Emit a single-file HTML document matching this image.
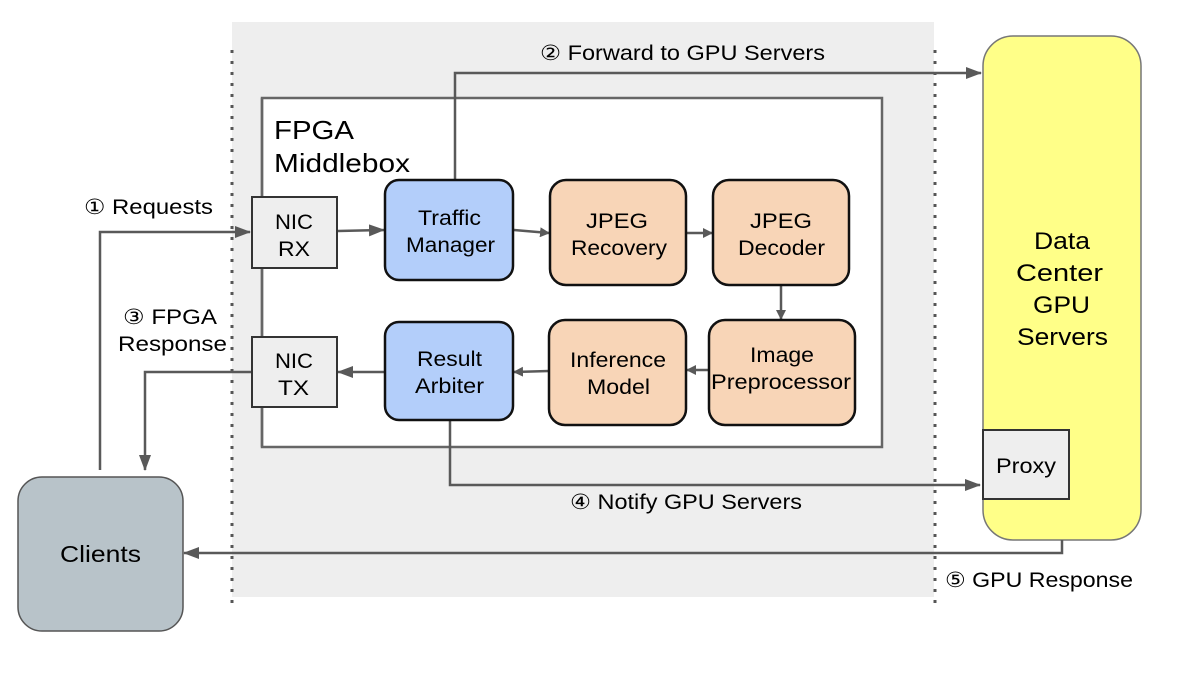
<!DOCTYPE html>
<html><head><meta charset="utf-8"><style>
body{margin:0;background:#fff}
svg{display:block;font-family:"Liberation Sans",sans-serif}
</style></head><body>
<svg width="1196" height="673" viewBox="0 0 1196 673" xmlns="http://www.w3.org/2000/svg">
<defs><marker id="a" markerWidth="10" markerHeight="10" refX="9" refY="5" orient="auto" markerUnits="userSpaceOnUse"><path d="M0,0 L10,5 L0,10 z" fill="#595959"/></marker>
<marker id="b" markerWidth="16" markerHeight="12" refX="15" refY="6" orient="auto" markerUnits="userSpaceOnUse"><path d="M0,0 L16,6 L0,12 z" fill="#595959"/></marker></defs>
<rect x="232" y="22" width="702" height="575" fill="#eeeeee"/>
<line x1="232" y1="50" x2="232" y2="606" stroke="#555" stroke-width="3" stroke-dasharray="3,8"/>
<line x1="935" y1="50" x2="935" y2="606" stroke="#555" stroke-width="3" stroke-dasharray="3,8"/>
<rect x="262" y="98" width="620" height="349" fill="#fff" stroke="#666" stroke-width="2.5"/>
<text x="274" y="139" font-size="26" textLength="80" lengthAdjust="spacingAndGlyphs">FPGA</text>
<text x="274" y="172" font-size="26" textLength="136" lengthAdjust="spacingAndGlyphs">Middlebox</text>
<rect x="983" y="36" width="158" height="504" rx="30" fill="#ffff88" stroke="#777" stroke-width="1.5"/>
<g font-size="24" lengthAdjust="spacingAndGlyphs">
<text x="1034" y="249" textLength="56" lengthAdjust="spacingAndGlyphs">Data</text>
<text x="1016" y="281" textLength="87" lengthAdjust="spacingAndGlyphs">Center</text>
<text x="1033" y="313" textLength="57" lengthAdjust="spacingAndGlyphs">GPU</text>
<text x="1017" y="345" textLength="91" lengthAdjust="spacingAndGlyphs">Servers</text></g>
<rect x="983" y="430" width="86" height="69" fill="#eeeeee" stroke="#333" stroke-width="2"/>
<text x="996" y="473" font-size="21" textLength="60" lengthAdjust="spacingAndGlyphs">Proxy</text>
<rect x="18" y="477" width="165" height="154" rx="24" fill="#b8c3c9" stroke="#555" stroke-width="1.5"/>
<text x="60" y="562" font-size="23" textLength="81" lengthAdjust="spacingAndGlyphs">Clients</text>
<g stroke="#595959" stroke-width="2.5" fill="none">
<polyline points="100,470 100,232 250,232" marker-end="url(#b)"/>
<line x1="338" y1="231" x2="384" y2="230" marker-end="url(#b)"/>
<line x1="514" y1="230" x2="549" y2="233" marker-end="url(#a)"/>
<line x1="686" y1="233" x2="712" y2="233" marker-end="url(#a)"/>
<line x1="781" y1="285" x2="781" y2="319" marker-end="url(#a)"/>
<line x1="708" y1="370" x2="687" y2="370" marker-end="url(#a)"/>
<line x1="549" y1="371" x2="514" y2="372" marker-end="url(#a)"/>
<line x1="384" y1="372" x2="338" y2="372" marker-end="url(#b)"/>
<polyline points="455,180 455,73 981,73" marker-end="url(#b)"/>
<polyline points="252,372 145,372 145,470" marker-end="url(#b)"/>
<polyline points="450,420 450,485 980,485" marker-end="url(#b)"/>
<polyline points="1062,540 1062,553 184,553" marker-end="url(#b)"/>
</g>
<line x1="262" y1="98" x2="262" y2="447" stroke="#666" stroke-width="2.5"/>
<rect x="252" y="197" width="85" height="71" fill="#eeeeee" stroke="#333" stroke-width="2"/>
<rect x="252" y="337" width="85" height="70" fill="#eeeeee" stroke="#333" stroke-width="2"/>
<g stroke="#111" stroke-width="2.5">
<rect x="385" y="180" width="128" height="100" rx="14" fill="#b3cefa"/>
<rect x="385" y="322" width="128" height="98" rx="14" fill="#b3cefa"/>
<rect x="550" y="180" width="136" height="105" rx="16" fill="#f8d5b7"/>
<rect x="713" y="180" width="136" height="105" rx="16" fill="#f8d5b7"/>
<rect x="709" y="320" width="146" height="105" rx="16" fill="#f8d5b7"/>
<rect x="549" y="320" width="137" height="105" rx="16" fill="#f8d5b7"/>
</g>
<g font-size="21" fill="#000">
<text x="275" y="229" textLength="38" lengthAdjust="spacingAndGlyphs">NIC</text>
<text x="278" y="256" textLength="32" lengthAdjust="spacingAndGlyphs">RX</text>
<text x="275" y="368" textLength="38" lengthAdjust="spacingAndGlyphs">NIC</text>
<text x="278" y="395" textLength="31" lengthAdjust="spacingAndGlyphs">TX</text>
<text x="418" y="225" textLength="63" lengthAdjust="spacingAndGlyphs">Traffic</text>
<text x="406" y="252" textLength="89" lengthAdjust="spacingAndGlyphs">Manager</text>
<text x="586" y="228" textLength="62" lengthAdjust="spacingAndGlyphs">JPEG</text>
<text x="571" y="255" textLength="96" lengthAdjust="spacingAndGlyphs">Recovery</text>
<text x="750" y="228" textLength="62" lengthAdjust="spacingAndGlyphs">JPEG</text>
<text x="738" y="255" textLength="87" lengthAdjust="spacingAndGlyphs">Decoder</text>
<text x="750" y="362" textLength="64" lengthAdjust="spacingAndGlyphs">Image</text>
<text x="711" y="389" textLength="140" lengthAdjust="spacingAndGlyphs">Preprocessor</text>
<text x="570" y="367" textLength="96" lengthAdjust="spacingAndGlyphs">Inference</text>
<text x="587" y="394" textLength="63" lengthAdjust="spacingAndGlyphs">Model</text>
<text x="417" y="366" textLength="65" lengthAdjust="spacingAndGlyphs">Result</text>
<text x="415" y="393" textLength="69" lengthAdjust="spacingAndGlyphs">Arbiter</text>
<text x="84" y="214" textLength="129" lengthAdjust="spacingAndGlyphs">① Requests</text>
<text x="123" y="324" textLength="94" lengthAdjust="spacingAndGlyphs">③ FPGA</text>
<text x="118" y="351" textLength="109" lengthAdjust="spacingAndGlyphs">Response</text>
<text x="540" y="60" textLength="285" lengthAdjust="spacingAndGlyphs">② Forward to GPU Servers</text>
<text x="570" y="509" textLength="232" lengthAdjust="spacingAndGlyphs">④ Notify GPU Servers</text>
<text x="945" y="587" textLength="188" lengthAdjust="spacingAndGlyphs">⑤ GPU Response</text>
</g>
</svg>
</body></html>
